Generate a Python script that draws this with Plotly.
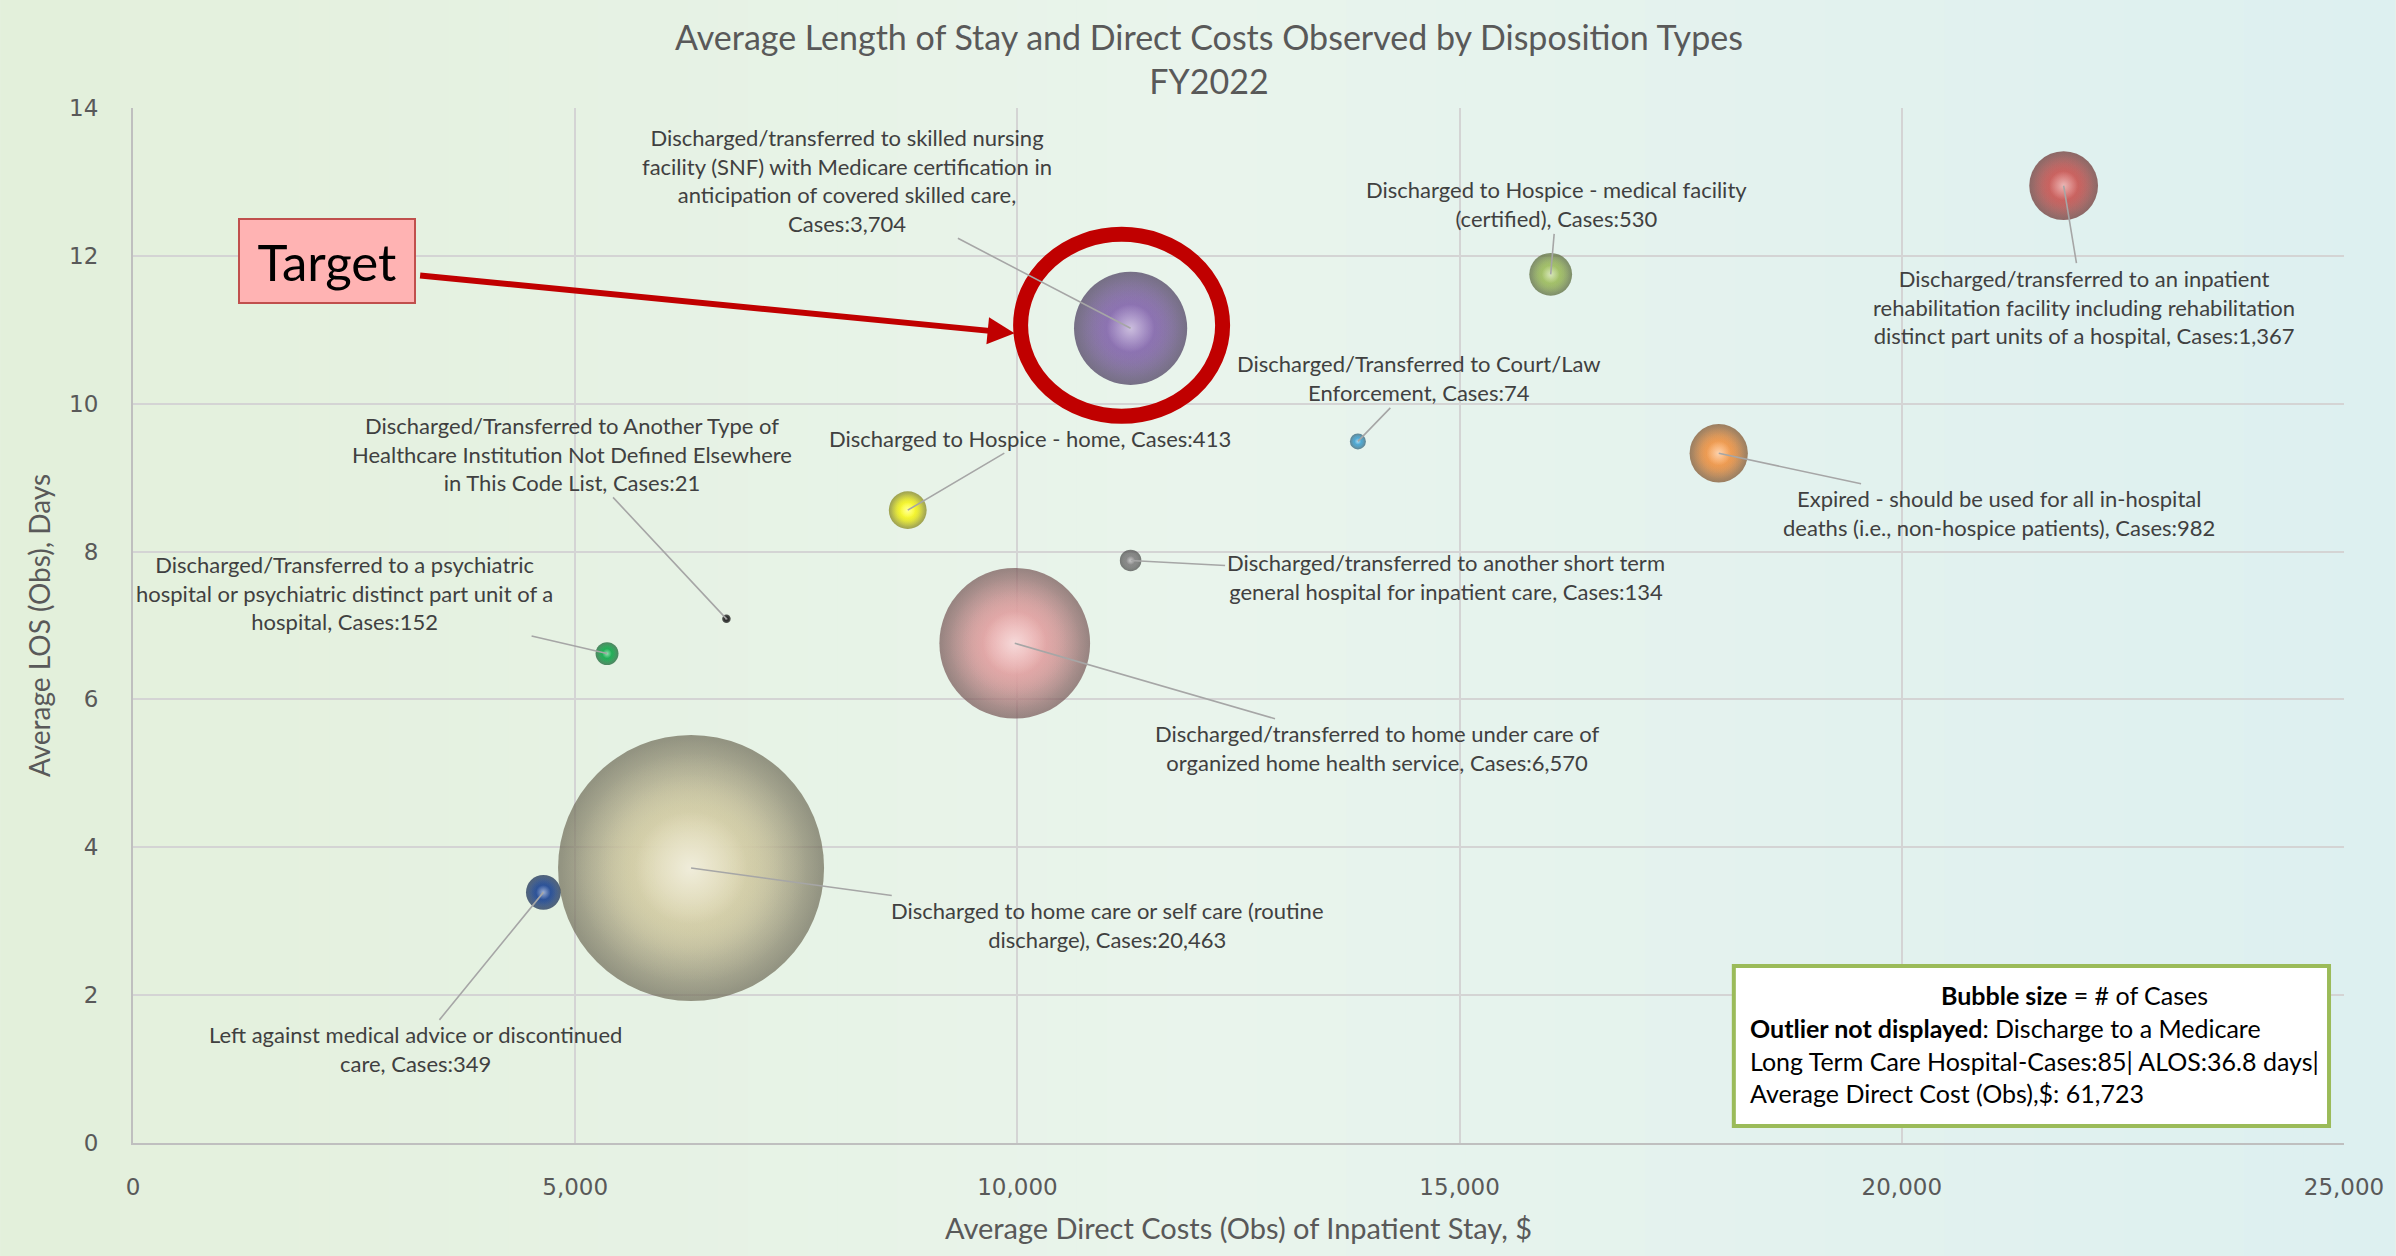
import plotly.graph_objects as go

# ---------------- data ----------------
labels = [
    "Discharged/transferred to skilled nursing<br>facility (SNF) with Medicare certification in<br>anticipation of covered skilled care,<br>Cases:3,704",
    "Discharged to Hospice - medical facility<br>(certified), Cases:530",
    "Discharged/transferred to an inpatient<br>rehabilitation facility including rehabilitation<br>distinct part units of a hospital, Cases:1,367",
    "Discharged/Transferred to Court/Law<br>Enforcement, Cases:74",
    "Expired - should be used for all in-hospital<br>deaths (i.e., non-hospice patients), Cases:982",
    "Discharged to Hospice - home, Cases:413",
    "Discharged/transferred to another short term<br>general hospital for inpatient care, Cases:134",
    "Discharged/Transferred to Another Type of<br>Healthcare Institution Not Defined Elsewhere<br>in This Code List, Cases:21",
    "Discharged/Transferred to a psychiatric<br>hospital or psychiatric distinct part unit of a<br>hospital, Cases:152",
    "Discharged/transferred to home under care of<br>organized home health service, Cases:6,570",
    "Discharged to home care or self care (routine<br>discharge), Cases:20,463",
    "Left against medical advice or discontinued<br>care, Cases:349",
]
avg_cost = [11280, 16030, 21830, 13850, 17930, 8760, 11280, 6710, 5360, 9970, 6310, 4640]
avg_los = [11.02, 11.75, 12.95, 9.49, 9.33, 8.56, 7.88, 7.09, 6.62, 6.76, 3.72, 3.39]
cases = [3704, 530, 1367, 74, 982, 413, 134, 21, 152, 6570, 20463, 349]

x_ticks = [0, 5000, 10000, 15000, 20000, 25000]
y_ticks = [0, 2, 4, 6, 8, 10, 12, 14]
target_index = 0

# ---------------- styles ----------------
base_colors = ["#8a6cb4", "#a4c462", "#d05a57", "#45a8d8", "#f89a48", "#ffff22",
               "#858585", "#1a1a1a", "#12b04e", "#eaa8a8", "#dcd5ac", "#1e4898"]
edge_darken = 0.5
# label offsets (pixels, text centre relative to bubble)
label_dx = [-284, 6, 20, 61, 280, 122, 315, -154, -263, 362, 416, -128]
label_dy = [-148, -70, 121, -63, 60, -72, 17, -165, -61, 105, 57, 157]


def hex_rgb(hx):
    hx = hx.lstrip("#")
    return int(hx[0:2], 16), int(hx[2:4], 16), int(hx[4:6], 16)


def rgba(hx, a):
    r, g, b = hex_rgb(hx)
    return "rgba(%d,%d,%d,%.2f)" % (r, g, b, a)


def dark(hx, f):
    r, g, b = hex_rgb(hx)
    return "rgb(%d,%d,%d)" % (int(r * f), int(g * f), int(b * f))


W, H = 2396, 1256
ML, MR, MT, MB = 133, 49, 108, 113
PW, PH = W - ML - MR, H - MT - MB
max_diam = 266
sizeref = 2.0 * max(cases) / (max_diam ** 2)

order = sorted(range(len(cases)), key=lambda i: -cases[i])

fig = go.Figure()
for i in order:
    # body: base colour in centre, dark rim
    fig.add_trace(go.Scatter(
        x=[avg_cost[i]], y=[avg_los[i]], mode="markers", hoverinfo="skip", showlegend=False,
        marker=dict(size=[cases[i]], sizemode="area", sizeref=sizeref,
                    color=dark(base_colors[i], edge_darken),
                    gradient=dict(type="radial", color=base_colors[i]),
                    line=dict(width=0))))
    # inner fill of base colour fading out
    for frac in (0.95, 0.75, 0.5):
        fig.add_trace(go.Scatter(
            x=[avg_cost[i]], y=[avg_los[i]], mode="markers", hoverinfo="skip", showlegend=False,
            marker=dict(size=[cases[i] * frac], sizemode="area", sizeref=sizeref,
                        color=rgba(base_colors[i], 0.0),
                        gradient=dict(type="radial", color=rgba(base_colors[i], 1.0)),
                        line=dict(width=0))))
    # highlight
    fig.add_trace(go.Scatter(
        x=[avg_cost[i]], y=[avg_los[i]], mode="markers", hoverinfo="skip", showlegend=False,
        marker=dict(size=[cases[i] * 0.18], sizemode="area", sizeref=sizeref,
                    color="rgba(255,255,255,0)",
                    gradient=dict(type="radial", color="rgba(255,255,255,0.8)"),
                    line=dict(width=0))))

# background gradient
shapes = []
n = 80
stops = [(0.0, (227, 240, 219)), (0.5, (233, 244, 236)), (1.0, (221, 240, 240))]
x_lo = -ML / PW
x_hi = 1 + MR / PW
for k in range(n):
    t = k / (n - 1)
    if t <= 0.5:
        a, b, u = stops[0][1], stops[1][1], t / 0.5
    else:
        a, b, u = stops[1][1], stops[2][1], (t - 0.5) / 0.5
    c = tuple(int(round(a[j] + (b[j] - a[j]) * u)) for j in range(3))
    xa = x_lo + (x_hi - x_lo) * k / n
    xb = x_lo + (x_hi - x_lo) * (k + 1) / n + 0.001
    shapes.append(dict(type="rect", xref="paper", yref="paper", x0=xa, x1=xb,
                       y0=-MB / PH - 0.01, y1=1 + MT / PH + 0.01, fillcolor="rgb(%d,%d,%d)" % c,
                       line=dict(width=0), layer="below"))

# target ring
shapes.append(dict(type="circle", xref="x", yref="y", xsizemode="pixel", ysizemode="pixel",
                   xanchor=avg_cost[target_index], yanchor=avg_los[target_index],
                   x0=-110, x1=92, y0=-88, y1=94,
                   line=dict(color="#c00000", width=15), fillcolor="rgba(0,0,0,0)",
                   layer="above"))

# note box
bx0, bx1, by0, by1 = 1736, 2332, 966, 1126
shapes.append(dict(type="rect", xref="paper", yref="paper",
                   x0=(bx0 - ML) / PW, x1=(bx1 - ML) / PW,
                   y0=(H - MB - by1) / PH, y1=(H - MB - by0) / PH,
                   fillcolor="white", line=dict(color="#9bbb59", width=4), layer="above"))

annotations = []
lab_font = dict(family="Lato, sans-serif", size=22, color="#404040")
for i in range(len(labels)):
    annotations.append(dict(x=avg_cost[i], y=avg_los[i], xref="x", yref="y",
                            text=labels[i], showarrow=True, arrowhead=0, arrowwidth=1.6,
                            arrowcolor="#a6a6a6", ax=label_dx[i], ay=label_dy[i],
                            font=lab_font, align="center", standoff=0))

# note text
annotations.append(dict(xref="paper", yref="paper", x=(2077 - ML) / PW, y=(H - MB - 995) / PH,
                        text="<b>Bubble size</b> = # of Cases", showarrow=False,
                        font=dict(family="Lato, sans-serif", size=25, color="black"),
                        xanchor="center", yanchor="middle"))
annotations.append(dict(xref="paper", yref="paper", x=(1750 - ML) / PW, y=(H - MB - 1060) / PH,
                        text="<b>Outlier not displayed</b>: Discharge to a Medicare<br>"
                             "Long Term Care Hospital-Cases:85| ALOS:36.8 days|<br>"
                             "Average Direct Cost (Obs),$: 61,723",
                        showarrow=False, align="left",
                        font=dict(family="Lato, sans-serif", size=25, color="black"),
                        xanchor="left", yanchor="middle"))

# target box
annotations.append(dict(xref="paper", yref="paper", x=(327 - ML) / PW, y=(H - MB - 261) / PH,
                        text="Target", showarrow=False,
                        font=dict(family="Lato, sans-serif", size=51, color="black"),
                        bgcolor="#ffb3b3", bordercolor="#c0504d", borderwidth=2,
                        width=172, height=80, xanchor="center", yanchor="middle"))
# target arrow
annotations.append(dict(x=avg_cost[target_index], y=avg_los[target_index], xref="x", yref="y",
                        text="", showarrow=True, arrowhead=2, arrowsize=0.9, arrowwidth=6,
                        arrowcolor="#c00000", xshift=-116, yshift=-5, ax=-596, ay=-58,
                        standoff=0))

fig.update_layout(
    width=W, height=H, autosize=False,
    margin=dict(l=ML, r=MR, t=MT, b=MB),
    paper_bgcolor="#e6f2ea", plot_bgcolor="rgba(0,0,0,0)",
    title=dict(text="Average Length of Stay and Direct Costs Observed by Disposition Types<br>FY2022",
               x=1209 / W, xanchor="center", xref="container",
               y=1 - 50 / H, yanchor="middle", yref="container",
               font=dict(family="Lato, sans-serif", size=34, color="#595959")),
    shapes=shapes, annotations=annotations,
    xaxis=dict(range=[0, 25000], tickvals=x_ticks, ticktext=[f"{v:,}" for v in x_ticks],
               showgrid=True, gridcolor="#d4d4d4", gridwidth=2, zeroline=False,
               showline=True, linecolor="#bfbfbf", linewidth=2, mirror=False,
               tickfont=dict(family="DejaVu Sans, sans-serif", size=23, color="#595959"),
               ticks="", ticklabelstandoff=22,
               title=dict(text="Average Direct Costs (Obs) of Inpatient Stay, $", standoff=20,
                          font=dict(family="Lato, sans-serif", size=29, color="#595959"))),
    yaxis=dict(range=[0, 14], tickvals=y_ticks,
               showgrid=True, gridcolor="#d4d4d4", gridwidth=2, zeroline=False,
               showline=True, linecolor="#bfbfbf", linewidth=2, mirror=False,
               tickfont=dict(family="DejaVu Sans, sans-serif", size=23, color="#595959"),
               ticks="", ticklabelstandoff=28,
               title=dict(text="Average LOS (Obs), Days", standoff=10,
                          font=dict(family="Lato, sans-serif", size=28, color="#595959"))),
)

fig.write_html("out.html", config={"displayModeBar": False},
               post_script=["document.body.style.margin='0';document.body.style.overflow='hidden';"])
